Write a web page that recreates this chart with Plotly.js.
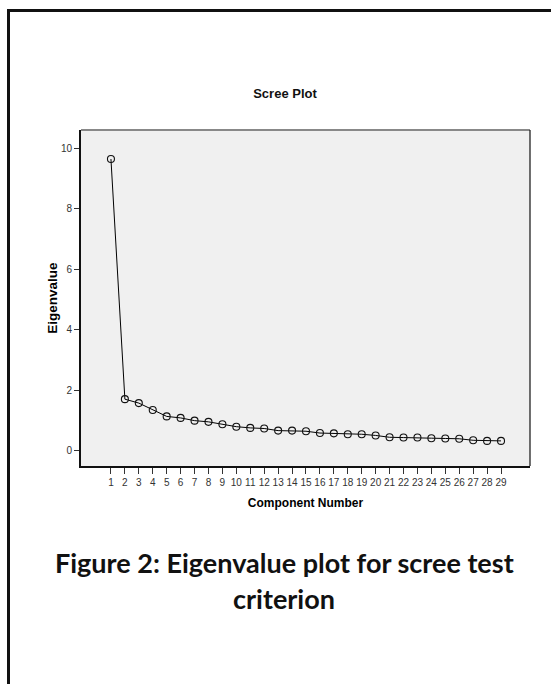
<!DOCTYPE html>
<html>
<head>
<meta charset="utf-8">
<script src="https://cdn.plot.ly/plotly-3.0.1.min.js"></script>
<style>
  html, body { margin: 0; padding: 0; background: #ffffff; }
  #wrap { position: relative; width: 551px; height: 684px; overflow: hidden; }
  #frame { position: absolute; left: 7px; top: 9px; width: 600px; height: 700px;
           border-left: 3px solid #111; border-top: 3px solid #111; pointer-events: none; }
  #chart { position: absolute; left: 0; top: 0; width: 551px; height: 684px; }
</style>
</head>
<body>
<div id="wrap">
  <div id="chart"></div>
  <div id="frame"></div>
</div>
<script>
// ---- data ----
const components = [1,2,3,4,5,6,7,8,9,10,11,12,13,14,15,16,17,18,19,20,21,22,23,24,25,26,27,28,29];
const tickLabels = ["1","2","3","4","5","6","7","8","9","10","11","12","13","14","15","16","17","18","19","20","21","22","23","24","25","26","27","28","29"];
const eigenvalues = [9.65,1.71,1.58,1.35,1.14,1.09,1.00,0.96,0.88,0.80,0.76,0.74,0.67,0.67,0.65,0.59,0.58,0.55,0.55,0.51,0.45,0.44,0.44,0.42,0.41,0.40,0.35,0.33,0.33];
const yTickVals = [0,2,4,6,8,10];
const yTickText = ["0","2","4","6","8","10"];
const chartTitle = "Scree Plot";
const xTitle = "Component Number";
const yTitle = "Eigenvalue";
const captionLine1 = "Figure 2: Eigenvalue plot for scree test";
const captionLine2 = "criterion";

const tickFont = {family: "Liberation Sans, Arial, sans-serif", size: 10, color: "#333"};
const titleFont = {family: "Liberation Sans, Arial, sans-serif", size: 12, color: "#000"};

const trace = {
  x: components,
  y: eigenvalues,
  type: "scatter",
  mode: "lines+markers",
  line: {color: "#000", width: 1},
  marker: {symbol: "circle-open", size: 7, color: "#111", line: {width: 1.1}},
  hoverinfo: "x+y"
};

const layout = {
  width: 551,
  height: 684,
  margin: {l: 81, r: 21, t: 130, b: 218},
  paper_bgcolor: "#ffffff",
  plot_bgcolor: "#f0f0f0",
  showlegend: false,
  title: {
    text: "<b>" + chartTitle + "</b>",
    font: {family: "Liberation Sans, Arial, sans-serif", size: 13, color: "#111"},
    x: 285/551, xanchor: "center", xref: "container",
    y: 1 - 93/684, yanchor: "middle", yref: "container"
  },
  xaxis: {
    range: [-1.15, 31.08],
    tickmode: "array",
    tickvals: components,
    ticktext: tickLabels,
    ticks: "outside", ticklen: 6, tickwidth: 1, tickcolor: "#333",
    tickfont: tickFont,
    showgrid: false, zeroline: false,
    showline: true, linecolor: "#111", linewidth: 2,
    title: {text: "<b>" + xTitle + "</b>", font: titleFont, standoff: 12}
  },
  yaxis: {
    range: [-0.5, 10.61],
    tickmode: "array",
    tickvals: yTickVals,
    ticktext: yTickText,
    ticks: "outside", ticklen: 5, tickwidth: 1, tickcolor: "#333",
    tickfont: tickFont,
    showgrid: false, zeroline: false,
    showline: true, linecolor: "#111", linewidth: 2,
    title: {text: "<b>" + yTitle + "</b>", font: {family: "Liberation Sans, Arial, sans-serif", size: 13.5, color: "#000"}, standoff: 0}
  },
  shapes: [
    {type: "line", xref: "paper", yref: "paper", x0: 0, x1: 1, y0: 1, y1: 1, line: {color: "#888", width: 2}},
    {type: "line", xref: "paper", yref: "paper", x0: 1, x1: 1, y0: 0, y1: 1, line: {color: "#222", width: 1.3}}
  ],
  annotations: [
    {text: "<b>" + captionLine1 + "</b>", xref: "paper", yref: "paper",
     x: (284.5-81)/449, y: (466-562)/336, xanchor: "center", yanchor: "middle",
     showarrow: false, font: {family: "Lato, sans-serif", size: 27, color: "#111"}},
    {text: "<b>" + captionLine2 + "</b>", xref: "paper", yref: "paper",
     x: (284-81)/449, y: (466-598)/336, xanchor: "center", yanchor: "middle",
     showarrow: false, font: {family: "Lato, sans-serif", size: 27, color: "#111"}}
  ]
};

Plotly.newPlot("chart", [trace], layout, {displayModeBar: false, staticPlot: true});
</script>
</body>
</html>
